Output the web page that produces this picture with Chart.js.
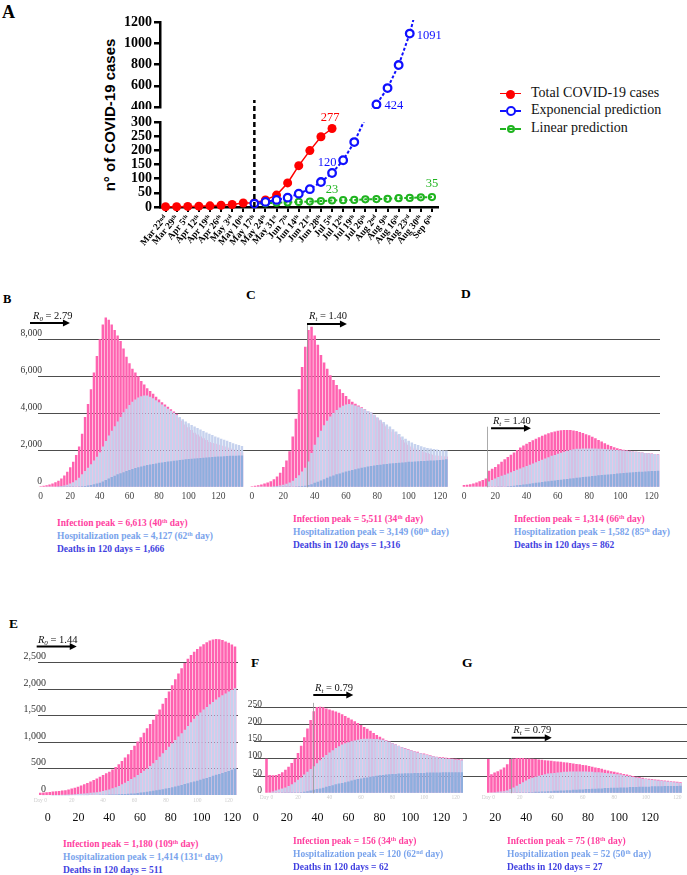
<!DOCTYPE html>
<html>
<head>
<meta charset="utf-8">
<script src="https://cdn.jsdelivr.net/npm/chart.js@4.4.1/dist/chart.umd.min.js"></script>
<style>
  body { margin: 0; background: #fff; }
  #page { position: relative; width: 687px; height: 875px; overflow: hidden; font-family: "Liberation Serif", "Times New Roman", serif; }
  .box { position: absolute; }
  .letter { position: absolute; font-weight: bold; line-height: 1; color: #000; }
  .cap { position: absolute; font: bold 9.5px "Liberation Serif", serif; line-height: 13px; white-space: nowrap; }
  .cap sup { font-size: 6px; line-height: 0; vertical-align: 3px; }
  .inf { color: #ff3f9f; }
  .hos { color: #79a3ec; }
  .dea { color: #3f3fe0; }
  .leg { position: absolute; font: 14px "Liberation Serif", serif; color: #111; white-space: nowrap; line-height: 1; }
</style>
</head>
<body>
<div id="page">
  <div class="letter" style="left:2px;top:3px;font-size:18px">A</div>
  <div class="letter" style="left:3px;top:293px;font-size:12.5px">B</div>
  <div class="letter" style="left:246px;top:288px;font-size:13.5px">C</div>
  <div class="letter" style="left:461px;top:287px;font-size:13.5px">D</div>
  <div class="letter" style="left:9px;top:617px;font-size:13.5px">E</div>
  <div class="letter" style="left:251px;top:656px;font-size:13.5px">F</div>
  <div class="letter" style="left:462px;top:656px;font-size:13.5px">G</div>

  <div style="position:absolute;left:109px;top:115px;transform:translate(-50%,-50%) rotate(-90deg);font:bold 15px 'Liberation Sans', Arial, sans-serif;white-space:nowrap">n° of COVID-19 cases</div>

  <div class="box" style="left:100px;top:12px;width:345px;height:97px"><canvas id="aUpper"></canvas></div>
  <div class="box" style="left:100px;top:95px;width:345px;height:177px"><canvas id="aLower"></canvas></div>
  <div id="legend"></div>

  <div class="box" style="left:0px;top:288px;width:244px;height:218px"><canvas id="chartB"></canvas></div>
  <div class="box" style="left:244px;top:288px;width:216px;height:218px"><canvas id="chartC"></canvas></div>
  <div class="box" style="left:460px;top:288px;width:200px;height:218px"><canvas id="chartD"></canvas></div>
  <div class="box" style="left:0px;top:620px;width:246px;height:211px"><canvas id="chartE"></canvas></div>
  <div class="box" style="left:214px;top:670px;width:249px;height:161px"><canvas id="chartF"></canvas></div>
  <div class="box" style="left:463px;top:670px;width:224px;height:161px"><canvas id="chartG"></canvas></div>

  <div class="cap" style="left:57px;top:517px">
    <div class="inf">Infection peak = 6,613 (40<sup>th</sup> day)</div>
    <div class="hos">Hospitalization peak = 4,127 (62<sup>th</sup> day)</div>
    <div class="dea">Deaths in 120 days = 1,666</div>
  </div>
  <div class="cap" style="left:293px;top:513px">
    <div class="inf">Infection peak = 5,511 (34<sup>th</sup> day)</div>
    <div class="hos">Hospitalization peak = 3,149 (60<sup>th</sup> day)</div>
    <div class="dea">Deaths in 120 days = 1,316</div>
  </div>
  <div class="cap" style="left:514px;top:513px">
    <div class="inf">Infection peak = 1,314 (66<sup>th</sup> day)</div>
    <div class="hos">Hospitalization peak = 1,582 (85<sup>th</sup> day)</div>
    <div class="dea">Deaths in 120 days = 862</div>
  </div>
  <div class="cap" style="left:63px;top:838px">
    <div class="inf">Infection peak = 1,180 (109<sup>th</sup> day)</div>
    <div class="hos">Hospitalization peak = 1,414 (131<sup>st</sup> day)</div>
    <div class="dea">Deaths in 120 days = 511</div>
  </div>
  <div class="cap" style="left:293px;top:835px">
    <div class="inf">Infection peak = 156 (34<sup>th</sup> day)</div>
    <div class="hos">Hospitalization peak = 120 (62<sup>nd</sup> day)</div>
    <div class="dea">Deaths in 120 days = 62</div>
  </div>
  <div class="cap" style="left:507px;top:835px">
    <div class="inf">Infection peak = 75 (18<sup>th</sup> day)</div>
    <div class="hos">Hospitalization peak = 52 (50<sup>th</sup> day)</div>
    <div class="dea">Deaths in 120 days = 27</div>
  </div>
</div>

<script>
// ---------- Panel A: weekly cases ----------
const weeks = ['Mar 22','Mar 29','Apr 5','Apr 12','Apr 19','Apr 26','May 3','May 10','May 17','May 24','May 31','Jun 7','Jun 14',
  'Jun 21','Jun 28','Jul 5','Jul 12','Jul 19','Jul 26','Aug 2','Aug 9','Aug 16','Aug 23','Aug 30','Sep 6'];
const weekSuffix = ['nd','th','th','th','th','th','rd','th','th','th','st','th','th','st','th','th','th','th','th','nd','th','th','rd','th','th'];
const totalCases = [1,1,2,3,4,6,9,14,14,25,42,85,146,199,248,277,null,null,null,null,null,null,null,null,null];
const expPrediction = [null,null,null,null,null,null,null,null,12,18,25,33,47,63,88,120,165,229,313,424,578,795,1091,1490,null];
const linPrediction = [null,null,null,null,null,null,null,null,12,13,15,16,18,19,21,23,24,25,27,28,29,31,32,34,35];
const lowerTicks = [0,50,100,150,200,250,300];
const upperTicks = [400,600,800,1000,1200];
const legendNames = ['Total COVID-19 cases','Exponencial prediction','Linear prediction'];

// ---------- Panels B-G: simulated daily bars (one value every 2 days) ----------
const DAY_STEP = 2;
const dayTicks = [0,20,40,60,80,100,120];

const bInfected = [50,80,110,150,200,270,360,480,640,840, 1080,1380,1750,2200,2900,3800,4500,5300,6200,7100,
  8000,8800,9170,9050,8800,8500,8200,7900,7500,7050, 6700,6400,6200,6000,5750,5550,5350,5200,5050,4900,
  4750,4600,4470,4350,4220,4100,3980,3760,3600,3400, 3250,3100,2950,2850,2750,2650,2550,2450,2400,2350,
  2300,2250,2200,2150,2100,2050,2000,1950,1900];
const bHospital = [0,0,5,10,20,30,45,65,95,140, 200,270,380,520,700,880,1050,1250,1450,1650,
  1900,2200,2500,2800,3050,3300,3550,3800,4050,4250, 4450,4620,4750,4850,4920,4960,4960,4900,4810,4700,
  4600,4480,4370,4250,4140,4030,3920,3800,3680,3560, 3460,3370,3280,3200,3120,3040,2960,2890,2820,2750,
  2690,2630,2570,2510,2450,2380,2330,2280,2230];
const bDeaths = [0,0,0,0,0,0,5,5,10,10, 15,20,30,40,55,75,100,130,165,200,
  250,320,400,480,560,630,700,760,820,880, 940,990,1040,1090,1130,1170,1200,1230,1260,1290,
  1320,1345,1370,1390,1410,1430,1450,1470,1490,1510, 1530,1545,1560,1575,1590,1600,1615,1630,1640,1650,
  1660,1670,1680,1690,1700,1705,1710,1715,1720];

const cInfected = [60,80,110,150,200,260,330,440,580,780, 1100,1450,1950,2750,3700,5300,6500,7600,8500,8680,
  8200,7700,7150,6750,6400,6050,5800,5530,5300,5100, 4930,4760,4620,4520,4420,4320,4230,4130,4030,3900,
  3750,3600,3450,3300,3150,3000,2850,2700,2550,2420, 2300,2200,2100,2000,1950,1900,1850,1800,1760,1720,
  1700,1680,1660];
const cHospital = [0,0,5,10,15,25,35,50,70,100, 140,190,260,350,500,650,850,1050,1400,1850,
  2300,2700,3050,3350,3600,3830,4020,4180,4310,4410, 4480,4500,4480,4420,4360,4290,4220,4130,4050,3920,
  3780,3650,3530,3400,3280,3140,3010,2880,2750,2630, 2520,2420,2340,2280,2220,2170,2130,2100,2070,2040,
  2020,2000,1990];
const cDeaths = [0,0,0,0,0,0,0,5,5,10, 10,15,20,30,40,55,70,90,120,170,
  240,300,370,440,510,580,640,700,750,800, 850,900,940,980,1020,1060,1090,1120,1150,1175,
  1200,1220,1240,1260,1280,1300,1315,1330,1345,1360, 1375,1385,1395,1405,1415,1425,1435,1445,1455,1465,
  1475,1490,1510];

const dInfected = [120,140,170,210,260,330,400,480,900,1000, 1100,1240,1380,1510,1640,1760,1880,2010,2150,2260,
  2360,2450,2540,2620,2700,2780,2860,2920,2970,3010, 3050,3080,3095,3100,3090,3070,3040,2990,2940,2870,
  2810,2730,2650,2560,2470,2380,2300,2230,2160,2110, 2070,2030,2000,1970,1940,1920,1900,1880,1860,1840,
  1820,1800,1780];
const dHospital = [0,0,0,5,10,20,30,50,320,400, 480,550,620,680,750,820,880,950,1010,1080,
  1150,1220,1290,1360,1420,1490,1560,1630,1700,1750, 1810,1870,1920,1970,2020,2060,2080,2090,2100,2100,
  2100,2100,2095,2090,2085,2075,2060,2045,2030,2015, 2000,1985,1970,1950,1935,1915,1895,1875,1855,1835,
  1815,1795,1770];
const dDeaths = [0,0,0,0,0,0,0,0,0,0, 0,10,20,35,50,70,90,110,130,150,
  170,190,215,240,265,290,310,330,350,370, 390,410,430,450,470,490,510,530,550,570,
  590,610,630,650,665,680,695,710,725,740, 755,770,785,795,810,825,835,845,855,865,
  875,885,895];

const eInfected = [50,55,60,68,75,80,85,92,100,115, 130,148,165,188,210,238,265,292,320,352,
  385,418,450,492,535,590,650,715,780,860, 940,1020,1100,1185,1270,1350,1430,1525,1620,1730,
  1840,1960,2080,2190,2300,2400,2500,2580,2650,2710, 2760,2810,2850,2890,2920,2940,2950,2945,2930,2905,
  2880,2845,2810];
const eHospital = [0,1,3,5,6,8,10,12,15,17, 20,24,28,33,38,44,50,56,62,72,
  85,100,115,135,155,180,210,240,275,310, 345,385,425,465,505,555,610,670,730,795,
  860,920,985,1045,1110,1175,1240,1310,1380,1445, 1510,1565,1620,1670,1720,1765,1810,1850,1890,1925,
  1960,1990,2020];
const eDeaths = [0,0,0,0,1,1,1,2,2,2, 3,3,4,5,6,7,8,9,10,12,
  13,15,17,19,21,23,26,29,32,36, 40,47,55,62,70,79,88,98,108,119,
  130,142,155,170,185,200,215,231,248,264, 280,297,315,332,350,370,390,407,425,442,
  460,485,510];

const fInfected = [100,53,52,53,56,61,68,77,88,100, 117,138,162,188,212,238,250,251,249,246,
  243,240,237,233,229,224,219,214,209,204, 198,192,187,181,175,169,164,159,154,150,
  146,142,138,134,131,128,125,122,120,117, 115,112,110,108,106,105,104,103,102,101,
  100,99,98];
const fHospital = [0,2,5,8,11,14,17,21,26,32, 39,46,54,62,70,78,87,96,104,111,
  118,125,131,136,141,145,148,151,153,155, 157,158,158,158,157,157,156,155,152,149,
  145,141,137,133,130,127,124,121,118,116, 113,111,109,107,105,103,102,101,100,99,
  98,97,96];
const fDeaths = [0,0,0,0,0,1,1,1,1,2, 2,3,4,6,8,10,12,14,16,19,
  21,23,26,28,30,32,34,37,39,41, 43,45,46,48,49,51,52,53,54,55,
  56,56,57,57,58,58,58,59,59,59, 59,60,60,60,60,60,61,61,61,61,
  61,61,61];

const gInfected = [99,55,60,64,69,75,84,99,101,102, 102,102,101,101,100,99,98,97,96,95,
  94,93,92,91,90,89,88,86,85,84, 82,81,79,77,75,73,71,68,66,64,
  62,60,58,56,54,52,50,48,47,45, 43,42,41,40,39,38,37,36,35,34,
  33,32];
const gHospital = [0,2,3,4,5,6,8,12,17,22, 27,32,37,41,45,48,51,53,55,57,
  58,59,60,61,62,62,63,63,63,63, 63,63,62,62,61,61,60,59,58,57,
  56,55,54,52,50,49,47,46,44,42, 41,40,39,38,37,36,35,34,33,32,
  31,30];
const gDeaths = [0,0,0,0,0,0,0,0,0,1, 1,2,2,3,3,4,4,5,5,6,
  6,7,7,8,8,9,9,10,10,11, 11,12,12,13,13,14,14,15,15,16,
  16,16,17,17,17,18,18,18,19,19, 19,19,20,20,20,20,21,21,21,21,
  21,22];

const rowBTicks = [0,2000,4000,6000,8000];
const rowETicks = [0,500,1000,1500,2000,2500];
const rowFTicks = [0,50,100,150,200,250];

// ---------- styling ----------
const FONT = '"Liberation Serif", "Times New Roman", serif';
const RED = '#ff0000', BLUE = '#1010ff', GREEN = '#1fb41f';
const INF_COL = '#ff62b0', HOSP_COL = '#c6d2ee', DEATH_COL = '#8eaede';
const SUP = { nd: 'ⁿᵈ', th: 'ᵗʰ', st: 'ˢᵗ', rd: 'ʳᵈ' };

Chart.defaults.font.family = FONT;
Chart.defaults.animation = false;

// extra drawing: dashed start line, R arrows, value labels
const extras = {
  id: 'extras',
  afterDatasetsDraw(chart, args, o) {
    const ctx = chart.ctx, xs = chart.scales.x, ys = chart.scales.y;
    ctx.save();
    if (o.dashAt != null) {
      const px = xs.getPixelForValue(o.dashAt);
      ctx.strokeStyle = '#000'; ctx.lineWidth = 2.5; ctx.setLineDash([5, 3]);
      ctx.beginPath(); ctx.moveTo(px, ys.bottom); ctx.lineTo(px, ys.top - o.dashExtend); ctx.stroke();
      ctx.setLineDash([]);
    }
    if (o.vline) {
      const px = Math.round(xs.getPixelForValue(o.vline.x)) + 0.5;
      ctx.strokeStyle = 'rgba(150,150,150,0.8)'; ctx.lineWidth = 1;
      ctx.beginPath(); ctx.moveTo(px, ys.bottom); ctx.lineTo(px, ys.getPixelForValue(o.vline.top)); ctx.stroke();
    }
    if (o.arrow) {
      const a = o.arrow, y = ys.getPixelForValue(a.y);
      const x0 = xs.getPixelForValue(a.x0), x1 = xs.getPixelForValue(a.x1);
      ctx.strokeStyle = '#000'; ctx.fillStyle = '#000'; ctx.lineWidth = 2;
      ctx.beginPath(); ctx.moveTo(x0, y); ctx.lineTo(x1 - 5, y); ctx.stroke();
      ctx.beginPath(); ctx.moveTo(x1, y); ctx.lineTo(x1 - 7, y - 3.5); ctx.lineTo(x1 - 7, y + 3.5); ctx.closePath(); ctx.fill();
    }
    if (o.rText) {
      const t = o.rText, y = ys.getPixelForValue(t.y) + 4;
      let x = xs.getPixelForValue(t.x);
      ctx.fillStyle = '#111'; ctx.textBaseline = 'alphabetic'; ctx.textAlign = 'left';
      ctx.font = 'italic 10.5px ' + FONT; ctx.fillText('R', x, y); x += ctx.measureText('R').width;
      ctx.font = 'italic 7px ' + FONT; ctx.fillText(t.sub, x, y + 2); x += ctx.measureText(t.sub).width;
      ctx.font = '10.5px ' + FONT; ctx.fillText(' = ' + t.val, x, y);
    }
    (o.labels || []).forEach(l => {
      const pt = chart.getDatasetMeta(l.ds).data[l.i];
      ctx.font = '12.5px ' + FONT; ctx.fillStyle = l.color;
      ctx.textAlign = l.align || 'center'; ctx.textBaseline = 'middle';
      ctx.fillText(String(l.text), pt.x + l.dx, pt.y + l.dy);
    });
    ctx.restore();
  }
};
Chart.register(extras);

const weekLabels = weeks.map((w, i) => w + SUP[weekSuffix[i]]);

function axisY(ticks, width) {
  return {
    min: ticks[0], max: ticks[ticks.length - 1],
    border: { display: true, color: '#000', width: 2.5 },
    grid: { display: true, drawOnChartArea: false, drawTicks: true, tickLength: 6, color: '#000', lineWidth: 2.5 },
    ticks: { autoSkip: false, font: { size: 14, weight: 'bold' }, color: '#000', padding: 2, callback: v => String(v) },
    afterBuildTicks: s => { s.ticks = ticks.map(v => ({ value: v })); },
    afterFit: s => { s.width = width; s.paddingTop = 0; s.paddingBottom = 0; }
  };
}

function lineSets(radiusFn) {
  return [
    { data: totalCases, borderColor: RED, backgroundColor: RED, pointBackgroundColor: RED, pointBorderColor: RED,
      borderWidth: 1.5, pointRadius: ctx => radiusFn(ctx.raw) ? 4.5 : 0, pointBorderWidth: 0, order: 2 },
    { data: expPrediction, borderColor: BLUE, borderDash: [3, 2], borderWidth: 2, pointBorderColor: BLUE,
      pointBackgroundColor: '#fff', pointRadius: ctx => radiusFn(ctx.raw) ? 3.8 : 0, pointBorderWidth: 2.3, order: 0 },
    { data: linPrediction, borderColor: GREEN, borderDash: [3, 2], borderWidth: 2, pointBorderColor: GREEN,
      pointBackgroundColor: 'rgba(0,0,0,0)', pointRadius: ctx => radiusFn(ctx.raw) ? 3.1 : 0, pointBorderWidth: 2, order: 1 }
  ];
}

// upper part of the broken axis (400-1200)
new Chart(document.getElementById('aUpper'), {
  type: 'line',
  data: { labels: weekLabels, datasets: lineSets(v => v >= 400).map(d => Object.assign(d, { clip: { left: 8, top: 2, right: 8, bottom: 3 } })) },
  options: {
    responsive: true, maintainAspectRatio: false,
    layout: { padding: { top: 10, right: 7.5, bottom: 2, left: 0 } },
    plugins: { legend: { display: false }, tooltip: { enabled: false },
      extras: { labels: [
        { ds: 1, i: 19, text: 424, dx: 8, dy: 1, align: 'left', color: BLUE },
        { ds: 1, i: 22, text: 1091, dx: 7, dy: 2, align: 'left', color: BLUE }
      ] } },
    scales: {
      x: { type: 'category', offset: true, display: false },
      y: axisY(upperTicks, 60)
    }
  }
});

// lower part of the broken axis (0-300)
new Chart(document.getElementById('aLower'), {
  type: 'line',
  data: { labels: weekLabels, datasets: lineSets(v => v <= 300).map(d => Object.assign(d, { clip: { left: 8, top: 0, right: 8, bottom: 8 } })) },
  options: {
    responsive: true, maintainAspectRatio: false,
    layout: { padding: { top: 27, right: 7.5, bottom: 0, left: 0 } },
    plugins: { legend: { display: false }, tooltip: { enabled: false },
      extras: { dashAt: 8, dashExtend: 22, labels: [
        { ds: 0, i: 15, text: 277, dx: -2, dy: -11, color: RED },
        { ds: 1, i: 15, text: 120, dx: -5, dy: -10, color: BLUE },
        { ds: 2, i: 15, text: 23, dx: 0, dy: -11, color: GREEN },
        { ds: 2, i: 24, text: 35, dx: 0, dy: -13, color: GREEN }
      ] } },
    scales: {
      x: {
        type: 'category', offset: true,
        border: { display: true, color: '#000', width: 2.5 },
        grid: { display: true, drawOnChartArea: false, drawTicks: true, tickLength: 5, color: '#000', lineWidth: 2, offset: false },
        ticks: { autoSkip: false, minRotation: 50, maxRotation: 50, font: { size: 9.5, weight: 'bold' }, color: '#000', padding: 1 },
        afterFit: s => { s.height = 65; s.paddingLeft = 0; s.paddingRight = 0; }
      },
      y: axisY(lowerTicks, 60)
    }
  }
});

// legend for panel A
(function () {
  const colors = [RED, BLUE, GREEN], tops = [94, 111, 129];
  const host = document.getElementById('legend');
  legendNames.forEach((name, i) => {
    const c = colors[i], y = tops[i];
    const line = document.createElement('div');
    line.style.cssText = `position:absolute;left:500px;top:${y - 1}px;width:21px;border-top:${i ? '2px dashed' : '1.5px solid'} ${c}`;
    const dot = document.createElement('div');
    const r = i === 0 ? 4.5 : (i === 1 ? 5 : 4);
    dot.style.cssText = `position:absolute;left:${510.5 - r}px;top:${y - r}px;width:${2 * r}px;height:${2 * r}px;border-radius:50%;box-sizing:border-box;` +
      (i === 0 ? `background:${c}` : `border:2.3px solid ${c};background:${i === 1 ? '#fff' : 'transparent'}`);
    const txt = document.createElement('div');
    txt.className = 'leg'; txt.style.left = '531px'; txt.style.top = (y - 8) + 'px'; txt.textContent = name;
    host.append(line, dot, txt);
  });
})();

function days(arr) { return arr.map((v, i) => ({ x: i * DAY_STEP, y: v })); }

function barPanel(id, p) {
  const scales = {
    x: {
      type: 'linear', min: p.xMin, max: p.xMax, offset: false, weight: 0,
      grid: { display: false, drawTicks: false }, border: { display: false },
      ticks: { autoSkip: false, maxRotation: 0, font: { size: p.faint ? 5.5 : 9.5 }, color: p.faint ? '#cfcfcf' : '#444',
        padding: p.faint ? 1.5 : 3.7, callback: v => (p.faint && v === 0 ? 'Day 0' : v) },
      afterBuildTicks: s => { s.ticks = dayTicks.map(v => ({ value: v })); },
      afterFit: s => { s.height = p.xH; s.paddingLeft = 0; s.paddingRight = 0; }
    },
    y: {
      min: 0, max: p.yMax, z: 1,
      grid: { color: c => (c.tick && c.tick.value === 0 ? 'rgba(0,0,0,0)' : '#4d4d4d'), lineWidth: 1, drawTicks: false },
      border: { display: false },
      ticks: { display: p.yLabels, autoSkip: false, mirror: true, crossAlign: 'far', font: { size: p.yFont || 9.5 }, color: '#333',
        padding: p.yPad, labelOffset: p.yOff, callback: v => v.toLocaleString('en-US') },
      afterBuildTicks: s => { s.ticks = p.yTicks.map(v => ({ value: v })); },
      afterFit: s => { s.width = p.yW; s.paddingTop = 0; s.paddingBottom = 0; }
    }
  };
  if (p.x2) {
    scales.x2 = {
      type: 'linear', position: 'bottom', min: p.x2.min, max: p.x2.max, offset: false, weight: 1,
      grid: { display: false, drawTicks: false }, border: { display: false },
      ticks: { autoSkip: false, maxRotation: 0, font: { size: 12 }, color: '#111', padding: p.x2.pad },
      afterBuildTicks: s => { s.ticks = dayTicks.map(v => ({ value: v })); },
      afterFit: s => { s.height = p.x2.h; s.paddingLeft = 0; s.paddingRight = 0; }
    };
  }
  return new Chart(document.getElementById(id), {
    type: 'bar',
    data: { datasets: [
      { data: days(p.deaths), backgroundColor: DEATH_COL, order: 0 },
      { data: days(p.hosp), backgroundColor: HOSP_COL, order: 1 },
      { data: days(p.inf), backgroundColor: INF_COL, order: 2 }
    ] },
    options: {
      responsive: true, maintainAspectRatio: false,
      layout: { padding: { top: p.padTop, right: p.padRight || 0, bottom: 0, left: 0 } },
      datasets: { bar: { grouped: false, barPercentage: 0.82, categoryPercentage: 1 } },
      plugins: { legend: { display: false }, tooltip: { enabled: false }, extras: p.extras },
      scales
    }
  });
}

barPanel('chartB', { inf: bInfected, hosp: bHospital, deaths: bDeaths, xMin: -1.8, xMax: 137.4, xH: 18.7,
  yMax: 10500, yTicks: rowBTicks, yLabels: true, yW: 38, yPad: -17.4, yOff: -6, padTop: 5,
  extras: { arrow: { x0: -7.2, x1: 19.8, y: 8880 }, rText: { x: -5.2, y: 9314, sub: '0', val: '2.79' } } });

barPanel('chartC', { inf: cInfected, hosp: cHospital, deaths: cDeaths, xMin: -5.1, xMax: 132.74, xH: 18.7,
  yMax: 10500, yTicks: rowBTicks, yLabels: false, yW: 0, yPad: 0, yOff: 0, padTop: 5,
  extras: { vline: { x: 35.1, top: 8880 }, arrow: { x0: 35.1, x1: 60.6, y: 8830 }, rText: { x: 36.4, y: 9314, sub: 't', val: '1.40' } } });

barPanel('chartD', { inf: dInfected, hosp: dHospital, deaths: dDeaths, xMin: -2.56, xMax: 125.3, xH: 18.7,
  yMax: 10500, yTicks: rowBTicks, yLabels: false, yW: 0, yPad: 0, yOff: 0, padTop: 5,
  extras: { vline: { x: 14.5, top: 3275 }, arrow: { x0: 17.3, x1: 42.8, y: 3189 }, rText: { x: 18.5, y: 3638, sub: 't', val: '1.40' } } });

barPanel('chartE', { inf: eInfected, hosp: eHospital, deaths: eDeaths, xMin: -1.46, xMax: 125.92, xH: 10, faint: true,
  x2: { min: -6.31, max: 123.73, h: 25.5, pad: 5 }, padRight: 8,
  yMax: 3120, yTicks: rowETicks, yLabels: true, yW: 38, yPad: -14.5, yOff: -6.5, yFont: 10, padTop: 10,
  extras: { arrow: { x0: -2.3, x1: 23.2, y: 2808 }, rText: { x: -1.5, y: 2947, sub: '0', val: '1.44' } } });

barPanel('chartF', { inf: fInfected, hosp: fHospital, deaths: fDeaths, xMin: -7.94, xMax: 124.76, xH: 10, faint: true,
  x2: { min: -1.1, max: 134.03, h: 27.75, pad: 7.25 },
  yMax: 328.3, yTicks: rowFTicks, yLabels: true, yW: 40, yPad: -6.3, yOff: -3, padTop: 10,
  extras: { vline: { x: 29.7, top: 262 }, arrow: { x0: 29.7, x1: 55.1, y: 285 }, rText: { x: 30.8, y: 309, sub: 't', val: '0.79' } } });

barPanel('chartG', { inf: gInfected, hosp: gHospital, deaths: gDeaths, xMin: -16.06, xMax: 126.16, xH: 10, faint: true,
  x2: { min: -0.84, max: 143.9, h: 27.75, pad: 7.25 },
  yMax: 328.3, yTicks: rowFTicks, yLabels: false, yW: 0, yPad: 0, yOff: 0, padTop: 10,
  extras: { vline: { x: 14.2, top: 102 }, arrow: { x0: 14.8, x1: 40.3, y: 161 }, rText: { x: 15.9, y: 185, sub: 't', val: '0.79' } } });
</script>
</body>
</html>
